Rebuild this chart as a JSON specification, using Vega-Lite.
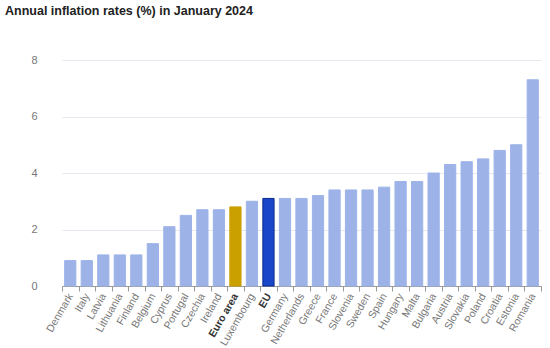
{
  "$schema": "https://vega.github.io/schema/vega-lite/v6.json",
  "width": 550,
  "height": 348,
  "autosize": {"type": "fit", "contains": "padding"},
  "padding": {"left": 5, "right": 8, "top": 4, "bottom": 0},
  "background": "white",
  "title": {
    "text": "Annual inflation rates (%) in January 2024",
    "anchor": "start",
    "frame": "group",
    "font": "Liberation Sans",
    "fontSize": 12.5,
    "fontWeight": "bold",
    "color": "#222222",
    "offset": 37,
    "dx": -57
  },
  "data": {
    "values": [
      {"country": "Denmark", "rate": 0.9, "group": "country"},
      {"country": "Italy", "rate": 0.9, "group": "country"},
      {"country": "Latvia", "rate": 1.1, "group": "country"},
      {"country": "Lithuania", "rate": 1.1, "group": "country"},
      {"country": "Finland", "rate": 1.1, "group": "country"},
      {"country": "Belgium", "rate": 1.5, "group": "country"},
      {"country": "Cyprus", "rate": 2.1, "group": "country"},
      {"country": "Portugal", "rate": 2.5, "group": "country"},
      {"country": "Czechia", "rate": 2.7, "group": "country"},
      {"country": "Ireland", "rate": 2.7, "group": "country"},
      {"country": "Euro area", "rate": 2.8, "group": "ea"},
      {"country": "Luxembourg", "rate": 3.0, "group": "country"},
      {"country": "EU", "rate": 3.1, "group": "eu"},
      {"country": "Germany", "rate": 3.1, "group": "country"},
      {"country": "Netherlands", "rate": 3.1, "group": "country"},
      {"country": "Greece", "rate": 3.2, "group": "country"},
      {"country": "France", "rate": 3.4, "group": "country"},
      {"country": "Slovenia", "rate": 3.4, "group": "country"},
      {"country": "Sweden", "rate": 3.4, "group": "country"},
      {"country": "Spain", "rate": 3.5, "group": "country"},
      {"country": "Hungary", "rate": 3.7, "group": "country"},
      {"country": "Malta", "rate": 3.7, "group": "country"},
      {"country": "Bulgaria", "rate": 4.0, "group": "country"},
      {"country": "Austria", "rate": 4.3, "group": "country"},
      {"country": "Slovakia", "rate": 4.4, "group": "country"},
      {"country": "Poland", "rate": 4.5, "group": "country"},
      {"country": "Croatia", "rate": 4.8, "group": "country"},
      {"country": "Estonia", "rate": 5.0, "group": "country"},
      {"country": "Romania", "rate": 7.3, "group": "country"}
    ]
  },
  "mark": {"type": "bar", "width": {"band": 0.68}, "strokeWidth": 1},
  "encoding": {
    "x": {
      "field": "country",
      "type": "nominal",
      "sort": null,
      "title": null,
      "scale": {"paddingInner": 0, "paddingOuter": 0},
      "axis": {
        "labelAngle": -60,
        "labelFont": "Liberation Sans",
        "labelFontSize": 10.5,
        "labelColor": {"expr": "datum.value == 'EU' || datum.value == 'Euro area' ? '#333333' : '#777777'"},
        "labelFontWeight": {"expr": "datum.value == 'EU' || datum.value == 'Euro area' ? 'bold' : 'normal'"},
        "labelPadding": 3,
        "domainColor": "#999999",
        "tickColor": "#999999",
        "tickSize": 5,
        "tickBand": "extent",
        "grid": false
      }
    },
    "y": {
      "field": "rate",
      "type": "quantitative",
      "title": null,
      "scale": {"domain": [0, 8]},
      "axis": {
        "values": [0, 2, 4, 6, 8],
        "labelFont": "Liberation Sans",
        "labelFontSize": 11,
        "labelColor": "#777777",
        "labelPadding": 25,
        "domain": false,
        "ticks": false,
        "gridColor": "#e6e8f0",
        "format": "d"
      }
    },
    "color": {
      "field": "group",
      "type": "nominal",
      "legend": null,
      "scale": {"domain": ["country", "ea", "eu"], "range": ["#9db3e8", "#c9a000", "#1a47c9"]}
    },
    "stroke": {
      "field": "group",
      "type": "nominal",
      "legend": null,
      "scale": {"domain": ["country", "ea", "eu"], "range": ["#9db3e8", "#c9a000", "#0b2a8a"]}
    }
  },
  "config": {"view": {"stroke": null}}
}
